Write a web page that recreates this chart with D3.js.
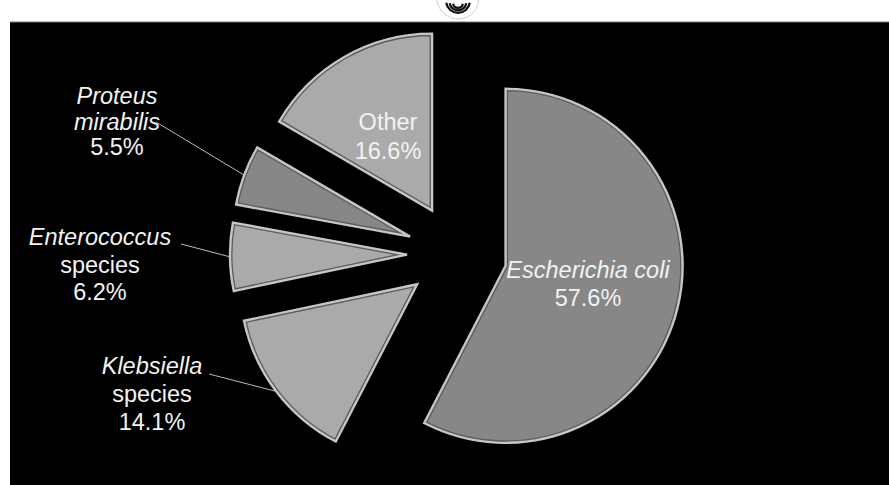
<!DOCTYPE html>
<html>
<head>
<meta charset="utf-8">
<script src="https://cdn.jsdelivr.net/npm/d3@7"></script>
<style>
  body { margin: 0; background: #fff; }
  svg { display: block; font-family: "Liberation Sans", Arial, sans-serif; }
</style>
</head>
<body>
<svg id="chart" width="889" height="485"></svg>
<script>
// data, clockwise from 12 o'clock
const organisms = ["Escherichia coli", "Klebsiella species", "Enterococcus species", "Proteus mirabilis", "Other"];
const shares = [57.6, 14.1, 6.2, 5.5, 16.6];
const shareLabels = ["57.6%", "14.1%", "6.2%", "5.5%", "16.6%"];
const nameLines = [["Escherichia coli"], ["Klebsiella", "species"], ["Enterococcus", "species"], ["Proteus", "mirabilis"], ["Other"]];
const nameItalic = [[true], [true, false], [true, false], [true, true], [false]];

// layout
const fills = ["#878787", "#aaaaaa", "#aaaaaa", "#878787", "#aaaaaa"];
const labelAt = [[588, 278], [152, 374], [100, 245], [117, 104], [388, 130]];
const lineGaps = [28, 28, 27.5, 25.5, 29];
const leaderFrom = [null, [209, 374], [181, 244], [156, 122], null];

let chart = d3.select("#chart");
let cx = 457, cy = 254, radius = 177, explode = 50;

chart.append("rect").attr("x", 10).attr("y", 22).attr("width", 879).attr("height", 463).attr("fill", "#000");
chart.append("line").attr("x1", 10).attr("x2", 889).attr("y1", 22).attr("y2", 22)
     .attr("stroke", "#777").attr("stroke-width", 1);

// logo peeking in at the top
let logo = chart.append("g").attr("transform", "translate(458,-2)");
logo.append("circle").attr("r", 21).attr("fill", "#fff").attr("stroke", "#c4c4c4").attr("stroke-width", 0.8);
[13, 9.5, 6].forEach(function(r, k){
    logo.append("path")
        .attr("d", d3.arc().innerRadius(r - 2.2).outerRadius(r)
                    .startAngle(Math.PI / 2 + 0.15).endAngle(3 * Math.PI / 2 - 0.15)())
        .attr("transform", "translate(0," + (3 + k) + ")")
        .attr("fill", "#111");
});

let pie = d3.pie().sort(null).value(d => d);
let arcs = pie(shares);
let arc = d3.arc().innerRadius(0).outerRadius(radius);
let rim = d3.arc().innerRadius(radius).outerRadius(radius);

let defs = chart.append("defs");

arcs.forEach(function(d, i){
    let mid = (d.startAngle + d.endAngle) / 2;
    let ox = cx + explode * Math.sin(mid);
    let oy = cy - explode * Math.cos(mid);
    let g = chart.append("g").attr("transform", "translate(" + ox + "," + oy + ")");

    defs.append("clipPath").attr("id", "clip" + i)
        .append("path").attr("d", arc(d));

    g.append("path").attr("d", arc(d)).attr("fill", fills[i]);
    g.append("path").attr("d", arc(d))
        .attr("clip-path", "url(#clip" + i + ")")
        .attr("fill", "none").attr("stroke", "#5c5c5c").attr("stroke-width", 5);
    g.append("path").attr("d", arc(d))
        .attr("fill", "none").attr("stroke", "#c6c6c6").attr("stroke-width", 2.4);

    if (leaderFrom[i]) {
        let p = rim.centroid(d);
        chart.append("line")
            .attr("x1", leaderFrom[i][0]).attr("y1", leaderFrom[i][1])
            .attr("x2", ox + p[0]).attr("y2", oy + p[1])
            .attr("stroke", "#b8b8b8").attr("stroke-width", 1);
    }

    let lines = nameLines[i].map((t, k) => ({text: t, italic: nameItalic[i][k]}));
    lines.push({text: shareLabels[i], italic: false});
    chart.selectAll(null).data(lines).enter()
        .append("text")
            .attr("x", labelAt[i][0])
            .attr("y", (t, k) => labelAt[i][1] + k * lineGaps[i])
            .attr("text-anchor", "middle")
            .attr("font-size", 23.5)
            .attr("font-style", t => t.italic ? "italic" : "normal")
            .attr("fill", "#f2f2f2")
            .text(t => t.text);
});
</script>
</body>
</html>
